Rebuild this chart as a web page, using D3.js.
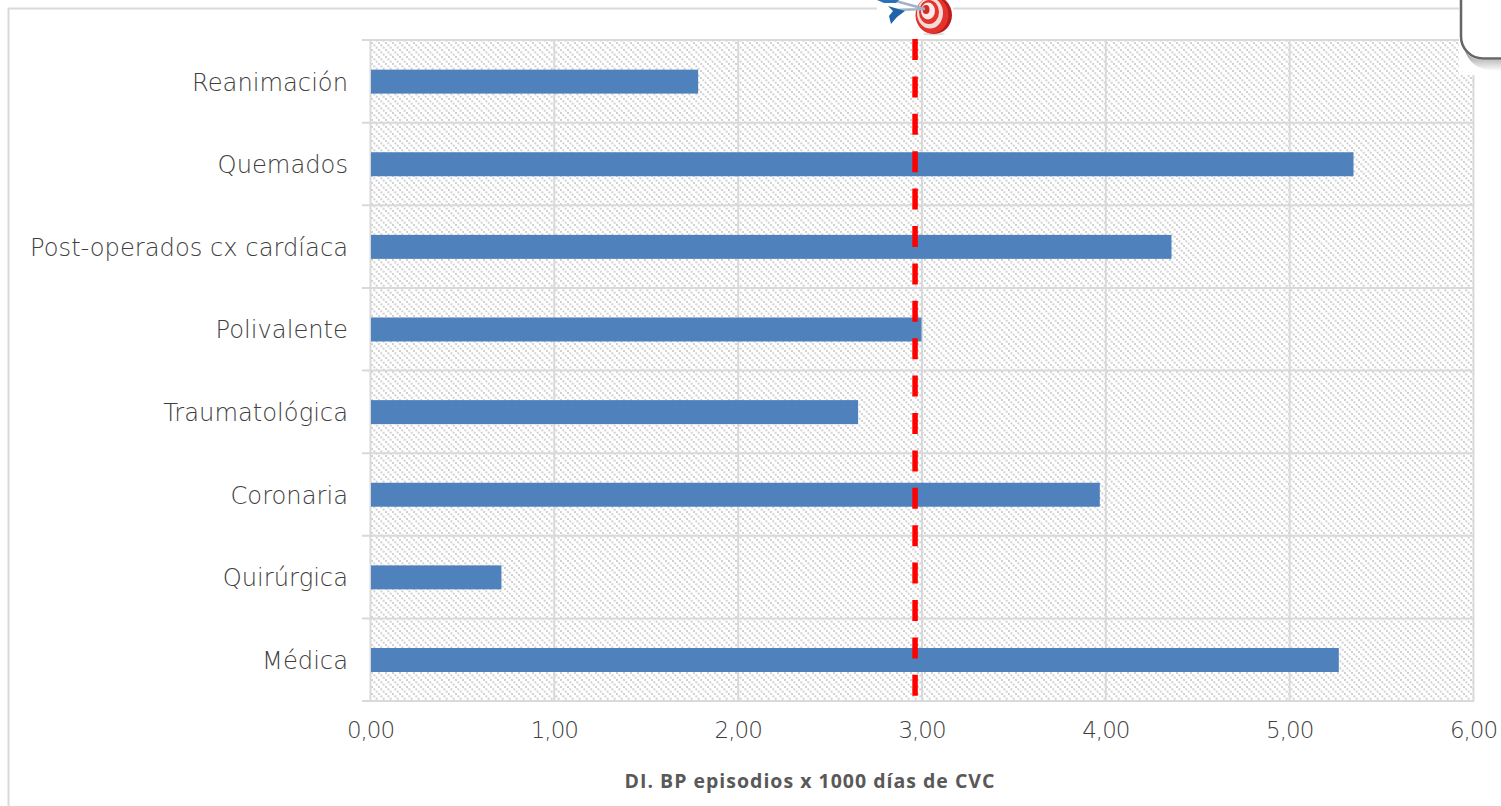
<!DOCTYPE html>
<html><head><meta charset="utf-8">
<script src="https://cdn.jsdelivr.net/npm/d3@7/dist/d3.min.js"></script>
<style>html,body{margin:0;padding:0;background:#fff;overflow:hidden}svg{display:block}
.lab{font-family:"DejaVu Sans",sans-serif;font-weight:200;fill:#404040}</style></head>
<body><svg id="c" width="1501" height="806"></svg>
<script>
const categories=["Reanimación","Quemados","Post-operados cx cardíaca","Polivalente","Traumatológica","Coronaria","Quirúrgica","Médica"];
const values=[1.785,5.35,4.36,3.00,2.655,3.97,0.715,5.27];
const xTicks=[0,1,2,3,4,5,6];
const targetValue=2.965;
const axisTitle="DI. BP episodios x 1000 días de CVC";

const svg=d3.select("#c");
const x=d3.scaleLinear().domain([0,6]).range([370,1473]);
const y=d3.scaleBand().domain(categories).range([40,701]);
const fmt=d=>d.toFixed(2).replace(".",",");
const defs=svg.append("defs");
const p=defs.append("pattern").attr("id","hatch").attr("patternUnits","userSpaceOnUse").attr("width",7).attr("height",7);
p.append("rect").attr("width",7).attr("height",7).attr("fill","#fff");
p.selectAll("rect.d").data([0,2.33,4.67]).join("rect").attr("class","d").attr("x",d=>d).attr("y",d=>d).attr("width",2).attr("height",2).attr("fill","#d2d2d2");
const sh=defs.append("linearGradient").attr("id","shadow").attr("x1",0).attr("x2",0).attr("y1",0).attr("y2",1);
sh.append("stop").attr("offset",0).attr("stop-color","#555");
sh.append("stop").attr("offset",0.35).attr("stop-color","#aaa");
sh.append("stop").attr("offset",1).attr("stop-color","#fff");

// outer frame
svg.append("path").attr("d","M8.5,806V8.5H1460").attr("fill","none").attr("stroke","#d9d9d9").attr("stroke-width",2);

// plot background
svg.append("rect").attr("x",x(0)).attr("y",y.range()[0]).attr("width",x(6)-x(0)).attr("height",y.range()[1]-y.range()[0]).attr("fill","url(#hatch)");

// vertical gridlines and value axis
const xAxis=d3.axisBottom(x).tickValues(xTicks).tickFormat(fmt).tickSize(-(y.range()[1]-y.range()[0])).tickPadding(21);
const gx=svg.append("g").attr("transform",`translate(0,${y.range()[1]})`).call(xAxis);
gx.select(".domain").remove();
gx.selectAll("line").attr("stroke","#d9d9d9").attr("stroke-width",2);
gx.selectAll("text").attr("class","lab").style("font-size","23px").style("letter-spacing","-1px");

// horizontal gridlines at category edges
const edges=[...categories.map(c=>y(c)),y.range()[1]];
svg.append("g").selectAll("line").data(edges).join("line")
  .attr("x1",362).attr("x2",x(6)+1).attr("y1",d=>d).attr("y2",d=>d)
  .attr("stroke","#d9d9d9").attr("stroke-width",2);

// bars
const barH=24;
svg.append("g").selectAll("rect").data(values).join("rect")
  .attr("x",x(0)+1).attr("y",(d,i)=>y(categories[i])+y.bandwidth()/2-barH/2+0.3)
  .attr("width",d=>x(d)-x(0)-1).attr("height",barH).attr("fill","#4f81bd");

// category labels
svg.append("g").selectAll("text").data(categories).join("text").attr("class","lab")
  .attr("x",348).attr("y",d=>y(d)+y.bandwidth()/2+9.3).attr("text-anchor","end")
  .style("font-size","24.2px").text(d=>d);

// target line
svg.append("line").attr("x1",x(targetValue)).attr("x2",x(targetValue)).attr("y1",39).attr("y2",697)
  .attr("stroke","#ff0000").attr("stroke-width",5.5).attr("stroke-dasharray","21 16.4");

// axis title
svg.append("text").attr("x",810).attr("y",788).attr("text-anchor","middle")
  .style("font-family","'Open Sans',sans-serif").style("font-weight",700).style("font-size","19.5px").style("letter-spacing","1px").attr("fill","#595959").text(axisTitle);

// target icon
const ic=svg.append("g");
ic.append("rect").attr("x",877).attr("y",0).attr("width",76).attr("height",33).attr("fill","#fff");
ic.append("ellipse").attr("cx",934).attr("cy",34).attr("rx",11).attr("ry",1.5).attr("fill","#ddd");
ic.append("ellipse").attr("cx",934).attr("cy",15).attr("rx",18).attr("ry",19).attr("fill","#b91c1c");
ic.append("ellipse").attr("cx",932).attr("cy",15).attr("rx",16.5).attr("ry",18.5).attr("fill","#e5322d");
ic.append("ellipse").attr("cx",930).attr("cy",13).attr("rx",13).attr("ry",15.5).attr("fill","#f3dcd8");
ic.append("ellipse").attr("cx",929).attr("cy",12).attr("rx",10).attr("ry",12).attr("fill","#e5322d");
ic.append("ellipse").attr("cx",928).attr("cy",11).attr("rx",7).attr("ry",8.5).attr("fill","#fbe9e6");
ic.append("ellipse").attr("cx",926).attr("cy",9.5).attr("rx",3.5).attr("ry",4.5).attr("fill","#d42a26");
ic.append("path").attr("d","M892,0L925,9M893,10L925,9").attr("stroke","#9fb3c4").attr("stroke-width",2.5).attr("fill","none");
ic.append("path").attr("d","M877,0L899,0L896,3L884,3Z").attr("fill","#2a72b8");
ic.append("path").attr("d","M888,6L905,11L897,17L891,24L889,16L893,11Z").attr("fill","#1f64a8");

// callout box corner
svg.append("rect").attr("x",1459).attr("y",0).attr("width",42).attr("height",75).attr("fill","#fff");
svg.append("path").attr("d","M1464,48C1469,62 1482,60 1501,60V71C1484,71 1470,68 1464,48Z").attr("fill","url(#shadow)");
svg.append("path").attr("d","M1461,0V36A22,22 0 0 0 1483,58.5H1501").attr("fill","none").attr("stroke","#666").attr("stroke-width",2.5);
</script></body></html>
